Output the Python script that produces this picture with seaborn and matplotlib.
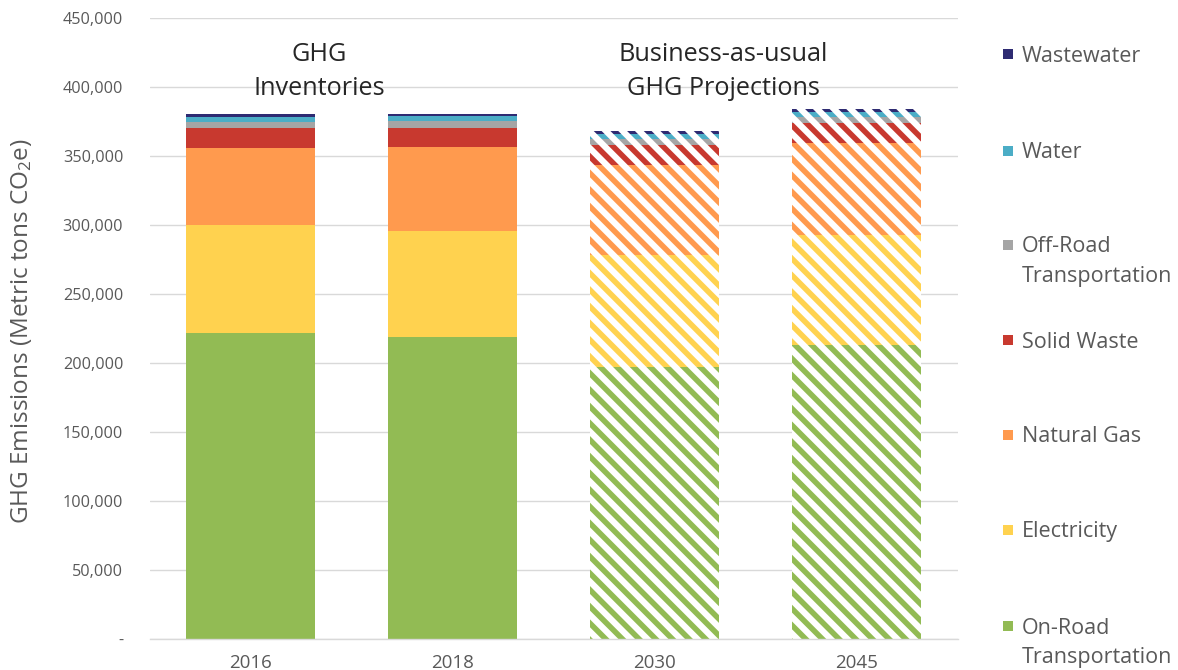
import numpy as np
import pandas as pd
import matplotlib
matplotlib.use("Agg")
import matplotlib.pyplot as plt
from matplotlib.patches import Rectangle
from matplotlib.ticker import FuncFormatter
import seaborn as sns

# Emission years; the last two are business-as-usual projections
years = ["2016", "2018", "2030", "2045"]
projected = [False, False, True, True]

# Sector emissions (metric tons CO2e), stacked bottom to top
sectors = ["On-Road\nTransportation", "Electricity", "Natural Gas", "Solid Waste",
           "Off-Road\nTransportation", "Water", "Wastewater"]
on_road = [221700, 219300, 197500, 213300]
electricity = [78500, 76800, 81000, 79700]
natural_gas = [56000, 60600, 65200, 66400]
solid_waste = [14100, 14000, 14500, 14500]
off_road = [4300, 4600, 4200, 4300]
water = [4100, 3700, 3800, 3800]
wastewater = [1900, 1600, 2000, 2000]

colors = ["#92BB54", "#FFD24F", "#FF9A4E", "#C8392F", "#A5A5A5", "#4BADC6", "#2E2B72"]

sns.set_theme(style="white")
plt.rcParams["font.family"] = ["Open Sans", "DejaVu Sans"]
plt.rcParams["mathtext.default"] = "regular"
plt.rcParams["hatch.linewidth"] = 4.0

W, H = 1178, 670
fig = plt.figure(figsize=(W / 100, H / 100), dpi=100)
ax = fig.add_axes([0.127, 0.0458, 0.686, 0.9269])

values = np.array([on_road, electricity, natural_gas, solid_waste, off_road, water, wastewater])
cum = values.cumsum(axis=0)

# Draw cumulative layers from the top down so each lower segment covers the one above
for i in reversed(range(len(sectors))):
    before = len(ax.patches)
    df = pd.DataFrame({"year": years, "total": cum[i]})
    sns.barplot(data=df, x="year", y="total", order=years, color=colors[i],
                saturation=1, width=0.64, errorbar=None, ax=ax)
    for patch, proj in zip(ax.patches[before:], projected):
        patch.set_linewidth(0)
        if proj:
            patch.set_facecolor("white")
            patch.set_edgecolor(colors[i])
            patch.set_hatch("\\\\")
            patch.set_linewidth(0)

ax.set_xlim(-0.5, 3.5)
ax.set_ylim(0, 450000)
ax.set_yticks(np.arange(0, 450001, 50000))
ax.yaxis.set_major_formatter(FuncFormatter(lambda v, p: "-" if v == 0 else f"{v:,.0f}"))
ax.grid(axis="y", color="#D9D9D9", lw=1)
ax.grid(axis="x", visible=False)
ax.set_axisbelow(True)
for s in ["top", "right", "left"]:
    ax.spines[s].set_visible(False)
ax.spines["bottom"].set_color("#D9D9D9")
ax.spines["bottom"].set_linewidth(1)
ax.tick_params(axis="both", length=0, labelcolor="#595959")
ax.tick_params(axis="y", pad=19, labelsize=11.7)
ax.tick_params(axis="x", pad=10.5, labelsize=13.5)
ax.set_xlabel("")
ax.set_ylabel("")

fig.text(22 / W, 1 - 331.5 / H, "GHG Emissions (Metric tons CO$_2$e)", rotation=90,
         ha="center", va="center", fontsize=17.5, color="#595959")

# Group headings (anchored on the baseline of the second line)
ax.text(0.338, 394400, "GHG\nInventories", ha="center", va="baseline",
        fontsize=18.2, color="#262626", linespacing=1.45)
ax.text(2.34, 394400, "Business-as-usual\nGHG Projections", ha="center", va="baseline",
        fontsize=18.2, color="#262626", linespacing=1.45)

# Legend on the right, top entry first
legend_rows = [54, 151, 245, 340, 435, 530, 626]
for row, label, col in zip(legend_rows, sectors[::-1], colors[::-1]):
    fig.add_artist(Rectangle((1003 / W, 1 - (row + 5) / H), 10 / W, 10 / H,
                             transform=fig.transFigure, facecolor=col, edgecolor="none"))
    for k, line in enumerate(label.split("\n")):
        fig.text(1022 / W, 1 - (row + 7.5 + 30 * k) / H, line, ha="left", va="baseline",
                 fontsize=15.5, color="#595959")

fig.savefig("out.png", dpi=100, facecolor="white")
